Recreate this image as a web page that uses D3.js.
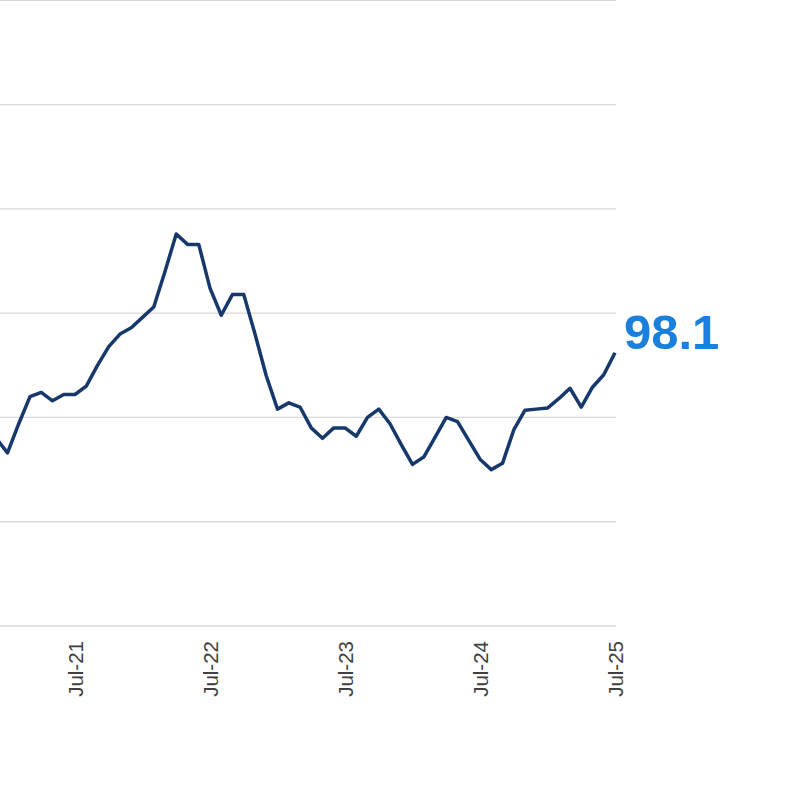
<!DOCTYPE html>
<html>
<head>
<meta charset="utf-8">
<script src="https://cdn.jsdelivr.net/npm/d3@7"></script>
<style>
  html, body { margin: 0; padding: 0; background: #fff; }
  svg { display: block; }
</style>
</head>
<body>
<svg id="chart" width="800" height="800"></svg>
<script>
// Monthly index values, Dec-20 .. Jul-25
const months = [
  "Dec-20","Jan-21","Feb-21","Mar-21","Apr-21","May-21","Jun-21","Jul-21","Aug-21","Sep-21","Oct-21","Nov-21","Dec-21",
  "Jan-22","Feb-22","Mar-22","Apr-22","May-22","Jun-22","Jul-22","Aug-22","Sep-22","Oct-22","Nov-22","Dec-22",
  "Jan-23","Feb-23","Mar-23","Apr-23","May-23","Jun-23","Jul-23","Aug-23","Sep-23","Oct-23","Nov-23","Dec-23",
  "Jan-24","Feb-24","Mar-24","Apr-24","May-24","Jun-24","Jul-24","Aug-24","Sep-24","Oct-24","Nov-24","Dec-24",
  "Jan-25","Feb-25","Mar-25","Apr-25","May-25","Jun-25","Jul-25"
];
const values = [
  94.0, 93.3, 94.7, 96.0, 96.2, 95.8, 96.1, 96.1, 96.5, 97.5, 98.4, 99.0, 99.3,
  99.8, 100.3, 102.0, 103.8, 103.3, 103.3, 101.2, 99.9, 100.9, 100.9, 99.0, 97.0,
  95.4, 95.7, 95.5, 94.5, 94.0, 94.5, 94.5, 94.1, 95.0, 95.4, 94.7, 93.7,
  92.75, 93.1, 94.05, 95.0, 94.8, 93.9, 93.0, 92.5, 92.8, 94.4, 95.35, 95.4,
  95.45, 95.9, 96.4, 95.5, 96.45, 97.05, 98.1
];
const tickLabels = ["Jul-21","Jul-22","Jul-23","Jul-24","Jul-25"];
const gridValues = [85, 90, 95, 100, 105, 110, 115];
const lastLabel = "98.1";

const svg = d3.select("#chart");

const x = d3.scaleLinear()
  .domain([months.indexOf("Jul-21"), months.indexOf("Jul-25")])
  .range([75, 615]);
const y = d3.scaleLinear()
  .domain([85, 115])
  .range([626, 0.4]);

// gridlines
svg.append("g")
  .selectAll("line")
  .data(gridValues)
  .join("line")
  .attr("x1", 0)
  .attr("x2", x(months.length - 1) + 1)
  .attr("y1", d => y(d))
  .attr("y2", d => y(d))
  .attr("stroke", "#d9d9d9")
  .attr("stroke-width", 1.3);

// x axis labels
const tickIdx = tickLabels.map(t => months.indexOf(t));
const xAxis = d3.axisBottom(x)
  .tickValues(tickIdx)
  .tickFormat(i => months[i])
  .tickSize(0)
  .tickPadding(0);
const gx = svg.append("g")
  .attr("transform", `translate(0,${y(85)})`)
  .call(xAxis);
gx.select(".domain").remove();
gx.selectAll("text")
  .attr("font-family", "Liberation Sans, Arial, sans-serif")
  .attr("font-size", 20.5)
  .attr("fill", "#404040")
  .attr("text-anchor", "end")
  .attr("transform", "translate(0,15) rotate(-90)")
  .attr("x", 0)
  .attr("y", 0)
  .attr("dy", "0.36em");

// line
const line = d3.line()
  .x((d, i) => x(i))
  .y(d => y(d));
svg.append("path")
  .datum(values)
  .attr("d", line)
  .attr("fill", "none")
  .attr("stroke", "#17386b")
  .attr("stroke-width", 3.5)
  .attr("stroke-linejoin", "round");

// last value label
const li = values.length - 1;
svg.append("text")
  .attr("x", x(li) + 9)
  .attr("y", y(values[li]) - 4)
  .attr("font-family", "Liberation Sans, Arial, sans-serif")
  .attr("font-weight", "bold")
  .attr("font-size", 49)
  .attr("fill", "#1a80dc")
  .text(lastLabel);
</script>
</body>
</html>
